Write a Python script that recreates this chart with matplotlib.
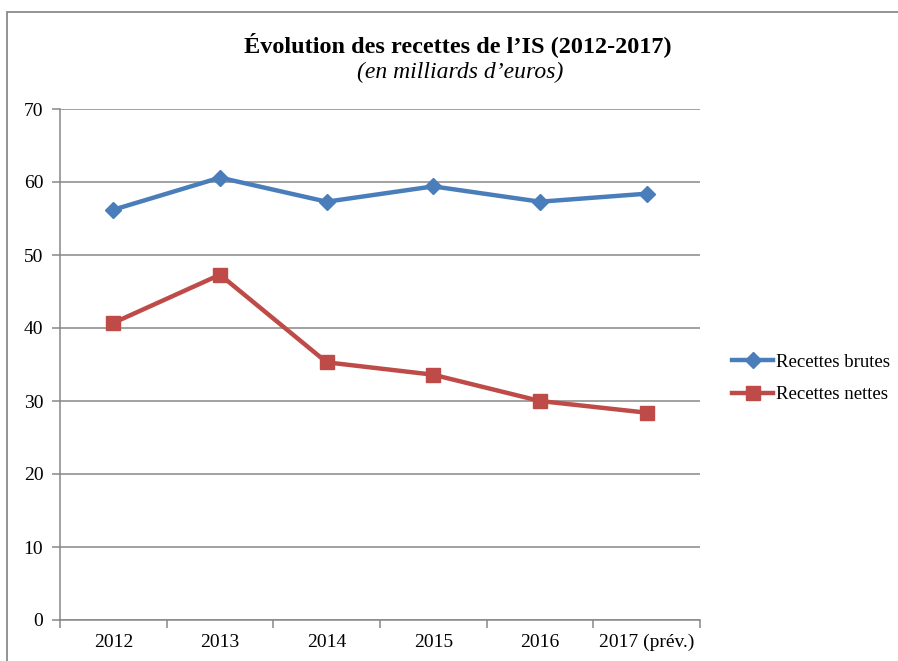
import matplotlib
matplotlib.use("Agg")
import matplotlib.pyplot as plt
from matplotlib.patches import Rectangle

plt.rcParams['font.family'] = ['Liberation Serif', 'DejaVu Serif']

categories = ["2012", "2013", "2014", "2015", "2016", "2017 (prév.)"]
brutes = [56.2, 60.6, 57.3, 59.4, 57.3, 58.4]
nettes = [40.7, 47.3, 35.3, 33.6, 30.0, 28.4]
yticks = [0, 10, 20, 30, 40, 50, 60, 70]

blue = "#4A7EBB"
red = "#BE4B48"
grid = "#878787"

fig = plt.figure(figsize=(8.98, 6.61), dpi=100)
ax = fig.add_axes([60/898, 1-620/661, 640/898, 511/661])

x = list(range(len(categories)))
ax.plot(x, brutes, color=blue, lw=3.2, marker="D", ms=8.5, label="Recettes brutes",
        solid_joinstyle="round", zorder=3)
ax.plot(x, nettes, color=red, lw=3.2, marker="s", ms=10.5, label="Recettes nettes",
        solid_joinstyle="round", zorder=3)

ax.set_xlim(-0.5, len(categories) - 0.5)
ax.set_ylim(0, 70)
ax.set_yticks(yticks)
ax.set_yticklabels([str(v) for v in yticks], fontsize=14)
ax.yaxis.grid(True, color=grid, lw=1.1)
ax.set_axisbelow(True)

bounds = [i - 0.5 for i in range(len(categories) + 1)]
ax.set_xticks(bounds)
ax.set_xticklabels([])
ax.set_xticks(x, minor=True)
ax.set_xticklabels(categories, minor=True, fontsize=14)
ax.tick_params(axis="x", which="major", direction="out", length=6, color=grid, width=1.1)
ax.tick_params(axis="x", which="minor", length=0, pad=10)
ax.tick_params(axis="y", direction="out", length=6, color=grid, width=1.1, pad=6)

for s in ["top", "right"]:
    ax.spines[s].set_visible(False)
for s in ["left", "bottom"]:
    ax.spines[s].set_color(grid)
    ax.spines[s].set_linewidth(1.1)

leg = ax.legend(loc="center left", bbox_to_anchor=(1.039, 0.473), frameon=False,
                fontsize=13.5, handlelength=2.15, handletextpad=0.15, labelspacing=0.82,
                borderaxespad=0)

fig.text(458/898, 1-45/661, "Évolution des recettes de l’IS (2012-2017)", ha="center", va="center",
         fontsize=17.5, fontweight="bold")
fig.text(460/898, 1-72/661, "(en milliards d’euros)", ha="center", va="center",
         fontsize=17, fontstyle="italic")

fig.patches.append(Rectangle((7/898, -0.1), 1.2, 1-12/661+0.1, transform=fig.transFigure,
                             fill=False, edgecolor="#8a8a8a", lw=1.3))

fig.savefig("out.png", dpi=100)
